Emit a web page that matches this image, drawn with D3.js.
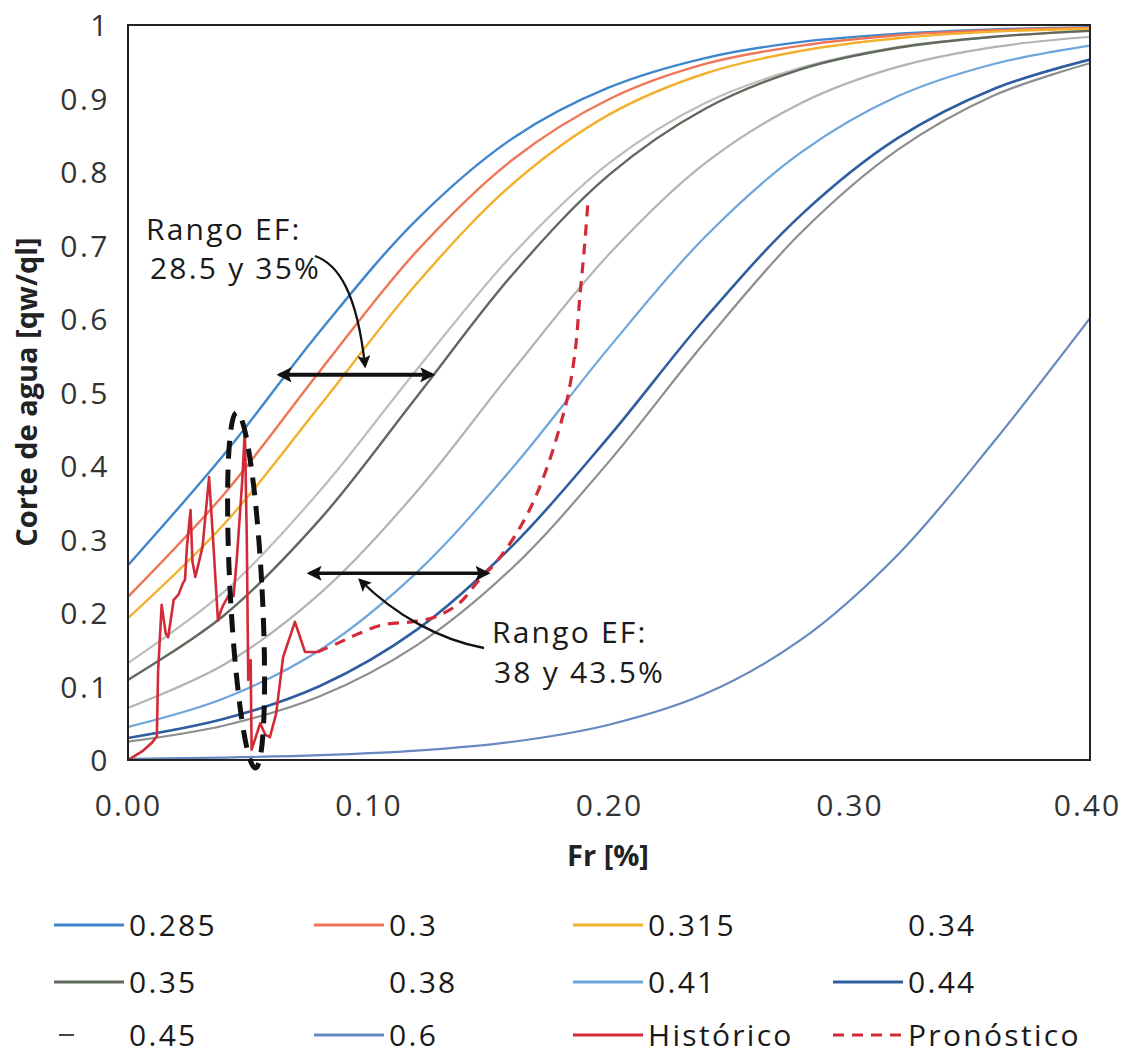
<!DOCTYPE html>
<html><head><meta charset="utf-8">
<script src="https://cdn.jsdelivr.net/npm/d3@7"></script>
<style>
body{margin:0;background:#fff;}
svg text{font-family:"Open Sans",sans-serif;}
</style>
</head><body>
<svg id="chart" width="1125" height="1055"></svg>
<script>
// ---------- DATA ----------
const frValues = [0.00,0.04,0.08,0.12,0.16,0.20,0.24,0.28,0.32,0.36,0.40];
const seriesNames = ["0.285","0.3","0.315","0.34","0.35","0.38","0.41","0.44","0.45","0.6"];
const s0285 = [0.265,0.416,0.584,0.735,0.846,0.915,0.955,0.977,0.988,0.994,0.997];
const s0300 = [0.222,0.362,0.530,0.692,0.817,0.899,0.947,0.972,0.986,0.993,0.996];
const s0315 = [0.193,0.321,0.483,0.648,0.784,0.878,0.934,0.965,0.982,0.991,0.995];
const s0340 = [0.132,0.229,0.367,0.531,0.688,0.812,0.894,0.942,0.970,0.984,0.992];
const s0350 = [0.109,0.197,0.328,0.494,0.661,0.796,0.886,0.940,0.969,0.984,0.992];
const s0380 = [0.071,0.130,0.227,0.365,0.530,0.688,0.812,0.894,0.943,0.970,0.984];
const s0410 = [0.045,0.084,0.150,0.255,0.398,0.561,0.712,0.827,0.903,0.947,0.972];
const s0440 = [0.030,0.056,0.101,0.177,0.292,0.440,0.601,0.742,0.846,0.913,0.953];
const s0450 = [0.025,0.047,0.087,0.156,0.262,0.406,0.569,0.718,0.830,0.904,0.948];
const s0600 = [0.0017,0.0033,0.0065,0.0127,0.0248,0.048,0.090,0.164,0.279,0.433,0.601];
const seriesValues = [s0285,s0300,s0315,s0340,s0350,s0380,s0410,s0440,s0450,s0600];

const historicoFr = [0.000,0.002,0.006,0.0098,0.012,0.0125,0.014,0.0157,0.0167,0.019,0.021,0.0229,0.0237,0.0245,0.026,0.0268,0.028,0.031,0.0337,0.0354,0.0374,0.0387,0.0395,0.0424,0.0439,0.0452,0.0475,0.0486,0.0494,0.0500,0.0510,0.0514,0.053,0.055,0.057,0.059,0.0616,0.0645,0.0694,0.0736,0.0788];
const historicoCorte = [0.000,0.004,0.012,0.023,0.032,0.120,0.211,0.172,0.167,0.218,0.225,0.241,0.245,0.290,0.340,0.270,0.249,0.290,0.385,0.299,0.190,0.204,0.210,0.227,0.223,0.272,0.380,0.449,0.300,0.109,0.136,0.014,0.030,0.050,0.035,0.031,0.063,0.140,0.188,0.147,0.147];

const pronosticoFr = [0.0788,0.088,0.096,0.106,0.118,0.128,0.138,0.146,0.152,0.157,0.164,0.170,0.1755,0.1797,0.183,0.186,0.188,0.1898,0.1912];
const pronosticoCorte = [0.147,0.160,0.172,0.184,0.188,0.195,0.214,0.245,0.265,0.286,0.322,0.362,0.410,0.455,0.497,0.558,0.635,0.698,0.757];

const xTicks = [0,0.1,0.2,0.3,0.4];
const xTickLabels = ["0.00","0.10","0.20","0.30","0.40"];
const yTicks = [0,0.1,0.2,0.3,0.4,0.5,0.6,0.7,0.8,0.9,1];
const yTickLabels = ["0","0.1","0.2","0.3","0.4","0.5","0.6","0.7","0.8","0.9","1"];

const legendOrder = ["0.285","0.3","0.315","0.34","0.35","0.38","0.41","0.44","0.45","0.6","Histórico","Pronóstico"];

// ---------- STYLES ----------
const style = {
  "0.285":{c:"#3f86cc",w:2.4},
  "0.3":{c:"#ef7656",w:2.4},
  "0.315":{c:"#f3b02c",w:2.4},
  "0.34":{c:"#bdbdbd",w:2.2},
  "0.35":{c:"#5f6a5c",w:2.4},
  "0.38":{c:"#b3b3b3",w:2.2},
  "0.41":{c:"#6ea6db",w:2.2},
  "0.44":{c:"#2f5d9f",w:2.6},
  "0.45":{c:"#8e8e8e",w:2.2},
  "0.6":{c:"#6689c0",w:2.2},
  "Histórico":{c:"#d22a38",w:2.6},
  "Pronóstico":{c:"#d22a38",w:3.2,dash:"11,8"}
};
const legendNoLine = {"0.34":true,"0.38":true};
const legendShort = {"0.45":true};

// ---------- CHART ----------
const svg = d3.select("#chart");
const L=128,R=1090,T=25,B=760;
const x = d3.scaleLinear().domain([0,0.4]).range([L,R]);
const y = d3.scaleLinear().domain([0,1]).range([B,T]);

const defs = svg.append("defs");
defs.append("clipPath").attr("id","clip").append("rect")
  .attr("x",L).attr("y",T-2).attr("width",R-L).attr("height",B-T+4);
function marker(id,w,h){
  defs.append("marker").attr("id",id).attr("viewBox","0 0 10 10")
    .attr("refX",8).attr("refY",5).attr("markerWidth",w).attr("markerHeight",h)
    .attr("markerUnits","userSpaceOnUse").attr("orient","auto-start-reverse")
    .append("path").attr("d","M0,0 L10,5 L0,10 L2,5 z").attr("fill","#111");
}
marker("ahBig",18,15);
marker("ahSmall",15,13);

const line = d3.line().x(d=>x(d[0])).y(d=>y(d[1])).curve(d3.curveCatmullRom.alpha(0.5));
const lineLin = d3.line().x(d=>x(d[0])).y(d=>y(d[1]));

const plot = svg.append("g").attr("clip-path","url(#clip)");
seriesNames.forEach((name,i)=>{
  const pts = frValues.map((f,j)=>[f,seriesValues[i][j]]);
  plot.append("path").attr("d",line(pts)).attr("fill","none")
    .attr("stroke",style[name].c).attr("stroke-width",style[name].w);
});
plot.append("path").attr("d",line(pronosticoFr.map((f,j)=>[f,pronosticoCorte[j]])))
  .attr("fill","none").attr("stroke",style["Pronóstico"].c).attr("stroke-width",style["Pronóstico"].w)
  .attr("stroke-dasharray",style["Pronóstico"].dash);
plot.append("path").attr("d",lineLin(historicoFr.map((f,j)=>[f,historicoCorte[j]])))
  .attr("fill","none").attr("stroke",style["Histórico"].c).attr("stroke-width",style["Histórico"].w)
  .attr("stroke-linejoin","round");

// frame
svg.append("rect").attr("x",L).attr("y",T).attr("width",R-L).attr("height",B-T)
  .attr("fill","none").attr("stroke","#222").attr("stroke-width",2);

// axes
const xAxis = svg.append("g").attr("transform",`translate(0,${B})`)
  .call(d3.axisBottom(x).tickValues(xTicks).tickFormat((d,i)=>xTickLabels[i]).tickSize(0));
xAxis.select(".domain").remove();
xAxis.selectAll("text").attr("y",56).attr("dy",null)
  .style("font-size","30px").style("letter-spacing","2px").attr("fill","#333")
  .style("font-family","'Open Sans',sans-serif");
xAxis.selectAll(".tick:last-of-type text").attr("dx",-3);

const yAxis = svg.append("g").attr("transform",`translate(${L},0)`)
  .call(d3.axisLeft(y).tickValues(yTicks).tickFormat((d,i)=>yTickLabels[i]).tickSize(0));
yAxis.select(".domain").remove();
yAxis.selectAll("text").attr("x",-18).attr("dy","0.36em")
  .style("font-size","30px").style("letter-spacing","2.5px").attr("fill","#333")
  .style("font-family","'Open Sans',sans-serif");

svg.append("text").attr("x",608).attr("y",866).attr("text-anchor","middle")
  .style("font-size","29px").style("font-weight","700").attr("fill","#222").text("Fr [%]");
svg.append("text").attr("transform","translate(37,392) rotate(-90)").attr("text-anchor","middle")
  .style("font-size","29px").style("font-weight","700").attr("fill","#222").text("Corte de agua [qw/ql]");

// annotations
const ann = svg.append("g");
ann.append("ellipse").attr("transform",`translate(${x(0.0491)},${y(0.231)}) rotate(-3)`)
  .attr("rx",16).attr("ry",178).attr("fill","none").attr("stroke","#111")
  .attr("stroke-width",5).attr("stroke-dasharray","18,11");
ann.append("line").attr("x1",x(0.063)).attr("x2",x(0.1265)).attr("y1",y(0.524)).attr("y2",y(0.524))
  .attr("stroke","#111").attr("stroke-width",4).attr("marker-start","url(#ahBig)").attr("marker-end","url(#ahBig)");
ann.append("line").attr("x1",x(0.0755)).attr("x2",x(0.1495)).attr("y1",y(0.254)).attr("y2",y(0.254))
  .attr("stroke","#111").attr("stroke-width",3.5).attr("marker-start","url(#ahBig)").attr("marker-end","url(#ahBig)");
ann.append("path").attr("d","M315,256 C338,264 357,292 365,366").attr("fill","none")
  .attr("stroke","#111").attr("stroke-width",2.3).attr("marker-end","url(#ahSmall)");
ann.append("path").attr("d","M484,648 C440,640 395,615 360,580").attr("fill","none")
  .attr("stroke","#111").attr("stroke-width",2.3).attr("marker-end","url(#ahSmall)");

const annText = [
  {t:"Rango EF:",x:146,y:240},{t:"28.5 y 35%",x:150,y:279},
  {t:"Rango EF:",x:492,y:643},{t:"38 y 43.5%",x:494,y:683}
];
annText.forEach(a=>ann.append("text").attr("x",a.x).attr("y",a.y).text(a.t)
  .style("font-size","30px").style("letter-spacing","2.2px").attr("fill","#1a1a1a"));

// legend
const colX = [54,314,573,833];
const rowY = [925,982,1035];
const lg = svg.append("g");
legendOrder.forEach((name,i)=>{
  const cx = colX[i%4], cy = rowY[Math.floor(i/4)];
  const st = style[name];
  if(!legendNoLine[name]){
    const x1 = legendShort[name] ? cx+5 : cx;
    const x2 = legendShort[name] ? cx+20 : cx+70;
    lg.append("line").attr("x1",x1).attr("x2",x2).attr("y1",cy).attr("y2",cy)
      .attr("stroke",legendShort[name] ? "#444" : st.c)
      .attr("stroke-width",legendShort[name] ? 2 : 3)
      .attr("stroke-dasharray",st.dash||null);
  }
  lg.append("text").attr("x",cx+75).attr("y",cy).attr("dy","0.36em").text(name)
    .style("font-size","30px").style("letter-spacing","2.3px").attr("fill","#1a1a1a");
});
</script>
</body></html>
